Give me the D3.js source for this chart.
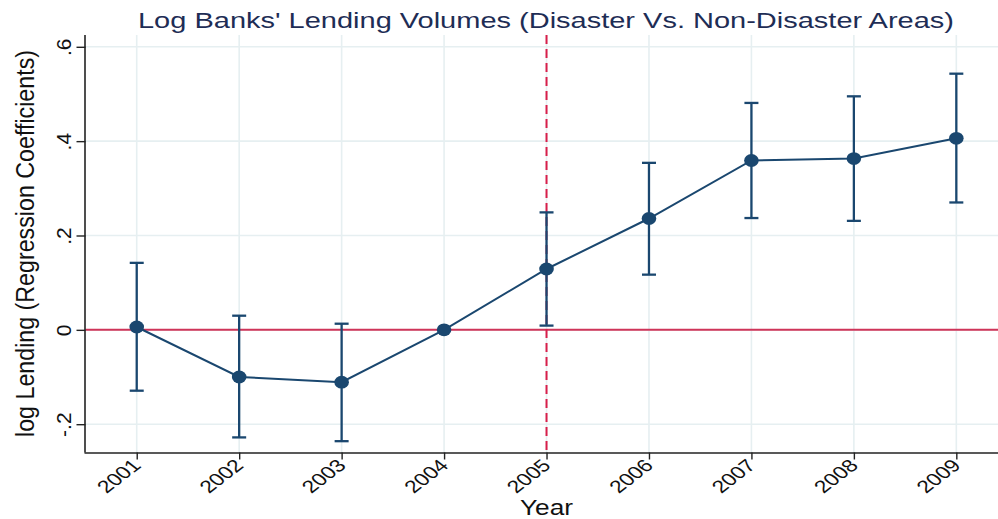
<!DOCTYPE html>
<html>
<head>
<meta charset="utf-8">
<script src="https://cdn.jsdelivr.net/npm/d3@7"></script>
<style>
  html, body { margin: 0; padding: 0; background: #fff; }
  svg { display: block; }
  text { font-family: "Liberation Sans", Arial, sans-serif; }
</style>
</head>
<body>
<svg id="chart" width="998" height="519"></svg>
<script>
// Event-study coefficients: log lending, disaster vs. non-disaster areas
const years    = [2001, 2002, 2003, 2004, 2005, 2006, 2007, 2008, 2009];
const coef     = [0.006, -0.100, -0.111, 0.000, 0.129, 0.236, 0.359, 0.363, 0.406];
const ciLower  = [-0.129, -0.228, -0.236, 0.000, 0.009, 0.117, 0.237, 0.231, 0.270];
const ciUpper  = [0.142, 0.030, 0.013, 0.000, 0.249, 0.354, 0.481, 0.495, 0.543];
const yTicks   = [-0.2, 0, 0.2, 0.4, 0.6];
const yTickLabels = ["-.2", "0", ".2", ".4", ".6"];
const eventYear = 2005;

const titleText  = "Log Banks' Lending Volumes (Disaster Vs. Non-Disaster Areas)";
const yAxisTitle = "log Lending (Regression Coefficients)";
const xAxisTitle = "Year";

const navy = "#1a476f";
const grid = "#e6eff1";

const svg = d3.select("#chart");

const plotLeft = 85.5, plotTop = 35, plotBottom = 452.5, plotRight = 998;
const x = d3.scaleLinear().domain([2000.5, 2009.5]).range([plotLeft, plotLeft + 9 * 102.45]);
const y = d3.scaleLinear().domain([-0.26, 0.625]).range([plotBottom, plotTop]);

// grid lines
svg.append("g").selectAll("line").data(yTicks).join("line")
  .attr("x1", plotLeft).attr("x2", plotRight)
  .attr("y1", d => y(d)).attr("y2", d => y(d))
  .attr("stroke", grid).attr("stroke-width", 1.6);
svg.append("g").selectAll("line").data(years).join("line")
  .attr("x1", d => x(d)).attr("x2", d => x(d))
  .attr("y1", plotTop).attr("y2", plotBottom)
  .attr("stroke", grid).attr("stroke-width", 1.6);

// zero reference line
svg.append("line")
  .attr("x1", plotLeft).attr("x2", plotRight)
  .attr("y1", y(0)).attr("y2", y(0))
  .attr("stroke", "#cf3459").attr("stroke-width", 2);

// event year marker
svg.append("line")
  .attr("x1", x(eventYear)).attr("x2", x(eventYear))
  .attr("y1", plotTop).attr("y2", plotBottom)
  .attr("stroke", "#d81e4a").attr("stroke-width", 2)
  .attr("stroke-dasharray", "9,5");

// y axis
const yAxis = d3.axisLeft(y).tickValues(yTicks)
  .tickFormat((d, i) => yTickLabels[i]).tickSize(9).tickPadding(0);
const gy = svg.append("g").attr("transform", `translate(${plotLeft},0)`).call(yAxis);
gy.select(".domain").attr("d", `M-0.5,${plotTop}V${plotBottom}`).attr("stroke", "#222").attr("stroke-width", 1.6);
gy.selectAll(".tick line").attr("stroke", "#222").attr("stroke-width", 1.4);
gy.selectAll(".tick text")
  .attr("font-size", 21).attr("fill", "#111")
  .attr("text-anchor", "middle")
  .attr("transform", "translate(-22,0) rotate(-90)")
  .attr("x", 0).attr("dy", "0.35em")
  .attr("font-family", "Liberation Sans, Arial, sans-serif");

// x axis
const xAxis = d3.axisBottom(x).tickValues(years).tickFormat(d3.format("d")).tickSize(7).tickPadding(0);
const gx = svg.append("g").attr("transform", `translate(0,${plotBottom})`).call(xAxis);
gx.select(".domain").attr("d", `M${plotLeft - 1},0.5H${plotRight}`).attr("stroke", "#222").attr("stroke-width", 1.6);
gx.selectAll(".tick line").attr("stroke", "#222").attr("stroke-width", 1.4);
gx.selectAll(".tick text")
  .attr("font-size", 17.5).attr("fill", "#111")
  .attr("text-anchor", "end")
  .attr("y", 0).attr("dy", 0)
  .attr("transform", "translate(5,14) scale(1.3,1) rotate(-45)")
  .attr("font-family", "Liberation Sans, Arial, sans-serif");

// confidence intervals
const ci = svg.append("g").attr("stroke", navy).attr("stroke-width", 2.3);
years.forEach((yr, i) => {
  if (ciUpper[i] === ciLower[i]) return;
  ci.append("line").attr("x1", x(yr)).attr("x2", x(yr)).attr("y1", y(ciLower[i])).attr("y2", y(ciUpper[i]));
  ci.append("line").attr("x1", x(yr) - 7).attr("x2", x(yr) + 7).attr("y1", y(ciLower[i])).attr("y2", y(ciLower[i]));
  ci.append("line").attr("x1", x(yr) - 7).attr("x2", x(yr) + 7).attr("y1", y(ciUpper[i])).attr("y2", y(ciUpper[i]));
});

// coefficient line and markers
const pts = years.map((yr, i) => [yr, coef[i]]);
svg.append("path").datum(pts)
  .attr("d", d3.line().x(d => x(d[0])).y(d => y(d[1])))
  .attr("fill", "none").attr("stroke", navy).attr("stroke-width", 2);
svg.append("g").selectAll("ellipse").data(pts).join("ellipse")
  .attr("cx", d => x(d[0])).attr("cy", d => y(d[1]))
  .attr("rx", 7.3).attr("ry", 6.4).attr("fill", navy);

// titles
svg.append("text").attr("x", 546).attr("y", 28)
  .attr("text-anchor", "middle").attr("font-size", 22).attr("fill", "#1e2d55")
  .attr("textLength", 816).attr("lengthAdjust", "spacingAndGlyphs")
  .text(titleText);

svg.append("text")
  .attr("transform", "translate(34,243.5) rotate(-90)")
  .attr("text-anchor", "middle").attr("font-size", 26).attr("fill", "#111")
  .attr("textLength", 387).attr("lengthAdjust", "spacingAndGlyphs")
  .text(yAxisTitle);

svg.append("text").attr("x", 546.5).attr("y", 515)
  .attr("text-anchor", "middle").attr("font-size", 22).attr("fill", "#111")
  .attr("textLength", 53).attr("lengthAdjust", "spacingAndGlyphs")
  .text(xAxisTitle);
</script>
</body>
</html>
